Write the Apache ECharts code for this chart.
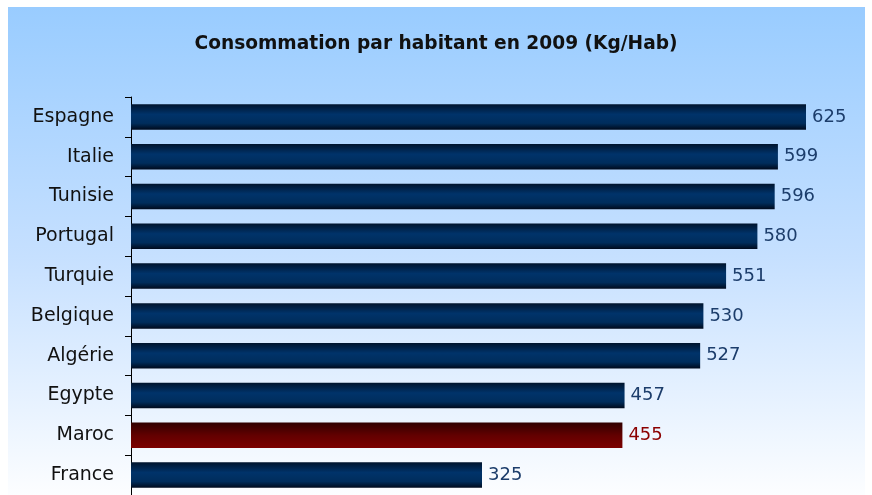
<!DOCTYPE html>
<html><head><meta charset="utf-8">
<script src="https://cdn.jsdelivr.net/npm/echarts@6/dist/echarts.min.js"></script>
<style>html,body{margin:0;padding:0;background:#fff}#c{width:872px;height:495px}</style>
</head><body><div id="c"></div>
<script>
const categories = ['Espagne','Italie','Tunisie','Portugal','Turquie','Belgique','Algérie','Egypte','Maroc','France'];
const values = [625,599,596,580,551,530,527,457,455,325];
const highlight = 'Maroc';

const blueGrad = new echarts.graphic.LinearGradient(0,0,0,1,[
  {offset:0,color:'#00142d'},{offset:0.4,color:'#00336a'},{offset:0.75,color:'#002d5c'},{offset:1,color:'#000a1c'}]);
const redGrad = new echarts.graphic.LinearGradient(0,0,0,1,[
  {offset:0,color:'#300000'},{offset:0.5,color:'#620000'},{offset:1,color:'#7c0000'}]);

const chart = echarts.init(document.getElementById('c'));
chart.setOption({
  backgroundColor:'#ffffff',
  animation:false,
  graphic:[{type:'rect',z:-10,shape:{x:8,y:7,width:857,height:500},
    style:{fill:new echarts.graphic.LinearGradient(0,0,0,1,[{offset:0,color:'#99ccff'},{offset:0.5,color:'#c6e0ff'},{offset:1,color:'#ffffff'}])}}],
  title:{text:'Consommation par habitant en 2009 (Kg/Hab)',left:'center',top:30,
    textStyle:{fontFamily:'DejaVu Sans',fontSize:18.6,fontWeight:'bold',color:'#111'}},
  grid:{left:131,top:97,width:702,bottom:-4,containLabel:false},
  xAxis:{type:'value',min:0,max:650,show:false},
  yAxis:{type:'category',data:categories,inverse:true,
    axisLine:{show:true,lineStyle:{color:'#000',width:1}},
    axisTick:{show:true,length:6,lineStyle:{color:'#000'}},
    axisLabel:{fontFamily:'DejaVu Sans',fontSize:19,color:'#111',margin:17}},
  series:[{type:'bar',barCategoryGap:'36%',
    data:values.map((v,i)=>({value:v,itemStyle:{color:categories[i]===highlight?redGrad:blueGrad},
      label:{color:categories[i]===highlight?'#8b0000':'#1c3d6b'}})),
    label:{show:true,position:'right',distance:6,fontFamily:'DejaVu Sans',fontSize:18}}]
});
</script></body></html>
